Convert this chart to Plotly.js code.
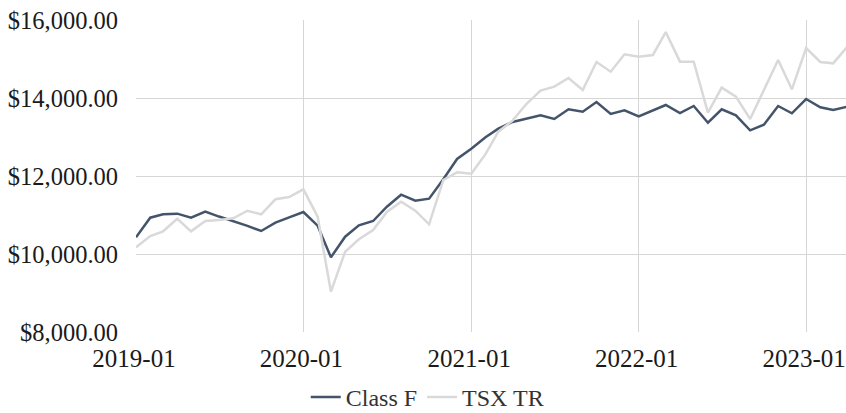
<!DOCTYPE html>
<html>
<head>
<meta charset="utf-8">
<script src="https://cdn.plot.ly/plotly-3.0.1.min.js"></script>
<style>html,body{margin:0;padding:0;background:#fff;} #chart{width:846px;height:413px;}</style>
</head>
<body>
<div id="chart"></div>
<script>
const months = [
  '2019-01-01','2019-02-01','2019-03-01','2019-04-01','2019-05-01','2019-06-01','2019-07-01','2019-08-01','2019-09-01','2019-10-01','2019-11-01','2019-12-01',
  '2020-01-01','2020-02-01','2020-03-01','2020-04-01','2020-05-01','2020-06-01','2020-07-01','2020-08-01','2020-09-01','2020-10-01','2020-11-01','2020-12-01',
  '2021-01-01','2021-02-01','2021-03-01','2021-04-01','2021-05-01','2021-06-01','2021-07-01','2021-08-01','2021-09-01','2021-10-01','2021-11-01','2021-12-01',
  '2022-01-01','2022-02-01','2022-03-01','2022-04-01','2022-05-01','2022-06-01','2022-07-01','2022-08-01','2022-09-01','2022-10-01','2022-11-01','2022-12-01',
  '2023-01-01','2023-02-01','2023-03-01','2023-04-01'
];
const classF = [
  10428,10931,11018,11034,10931,11085,10960,10850,10720,10590,10803,10941,
  11077,10726,9915,10444,10736,10846,11213,11521,11367,11418,11915,12436,
  12700,12992,13213,13385,13462,13556,13462,13710,13649,13897,13590,13684,
  13530,13692,13821,13615,13795,13367,13710,13556,13172,13316,13795,13608,
  13974,13762,13692,13777
];
const tsxTR = [
  10172,10462,10582,10905,10582,10846,10872,10915,11110,11018,11403,11462,
  11659,10957,9034,10059,10377,10616,11077,11341,11110,10762,11897,12094,
  12060,12560,13137,13420,13846,14188,14290,14513,14205,14923,14675,15120,
  15060,15103,15690,14932,14932,13623,14266,14034,13462,14222,14974,14222,
  15282,14923,14889,15316
];
const seriesNames = ['Class F', 'TSX TR'];
const yTicks = [8000, 10000, 12000, 14000, 16000];
const xTicks = ['2019-01-01','2020-01-01','2021-01-01','2022-01-01','2023-01-01'];
const xTickLabels = ['2019-01','2020-01','2021-01','2022-01','2023-01'];

const font = '"Liberation Serif", "Times New Roman", serif';
const traces = [
  {x: months, y: classF, name: seriesNames[0], type: 'scatter', mode: 'lines',
   line: {color: '#44546a', width: 2.5}},
  {x: months, y: tsxTR, name: seriesNames[1], type: 'scatter', mode: 'lines',
   line: {color: '#d9d9d9', width: 2.5}}
];
const layout = {
  width: 846, height: 413,
  margin: {l: 136, r: 0, t: 20, b: 81, autoexpand: false},
  paper_bgcolor: '#fff', plot_bgcolor: '#fff',
  font: {family: font, color: '#1a1a1a', size: 22},
  showlegend: true,
  legend: {orientation: 'h', xref: 'container', x: 0.505, xanchor: 'center',
           y: -0.21, yanchor: 'middle',
           font: {family: font, size: 24, color: '#333'}, itemwidth: 30, traceorder: 'normal'},
  xaxis: {type: 'date', range: ['2019-01-01', '2023-03-29'],
          tickvals: xTicks, ticktext: xTickLabels, ticklabeloverflow: 'allow',
          ticklabelshift: -2,
          showgrid: true, gridcolor: '#d6d6d6', gridwidth: 1,
          zeroline: false, showline: false, automargin: false,
          ticks: 'outside', ticklen: 4, tickcolor: 'rgba(0,0,0,0)',
          tickfont: {family: font, size: 25, color: '#1a1a1a'}},
  yaxis: {range: [8000, 16000], tickvals: yTicks, tickformat: '$,.2f',
          showgrid: true, gridcolor: '#d6d6d6', gridwidth: 1,
          zeroline: false, showline: false, automargin: false,
          ticks: 'outside', ticklen: 12, tickcolor: 'rgba(0,0,0,0)',
          tickfont: {family: font, size: 24.5, color: '#1a1a1a'}}
};
Plotly.newPlot('chart', traces, layout, {displayModeBar: false, staticPlot: true});
</script>
</body>
</html>
